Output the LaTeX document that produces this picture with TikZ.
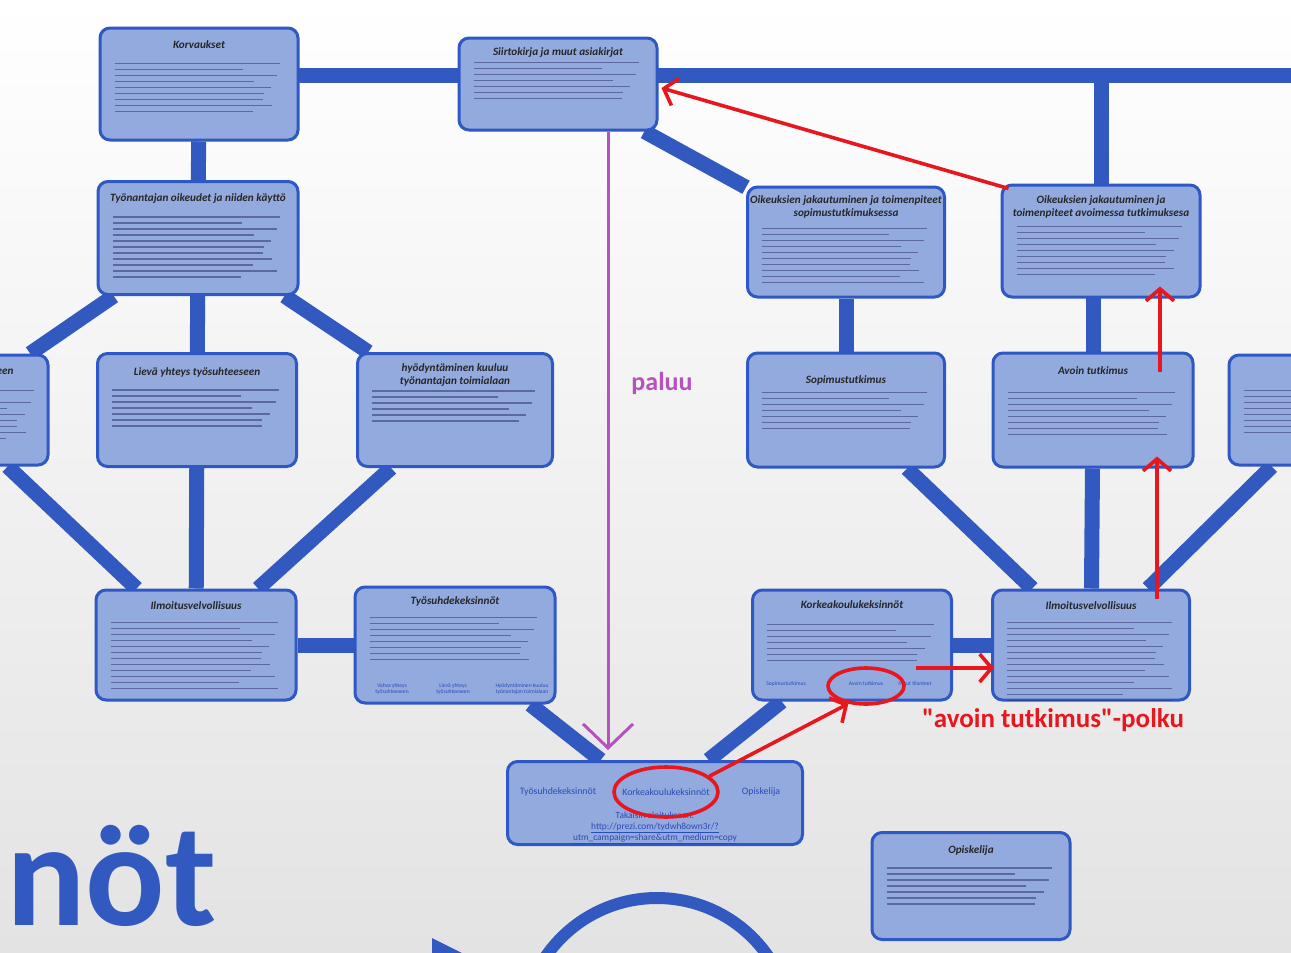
\documentclass[tikz,border=0pt]{standalone}
\usepackage{fontspec}
\setmainfont{Carlito}
\usetikzlibrary{positioning,arrows.meta,calc,shapes.geometric}
\pgfdeclarelayer{bg}
\pgfdeclarelayer{links}
\pgfsetlayers{bg,links,main}
\definecolor{boxfill}{RGB}{146,170,222}
\definecolor{boxline}{RGB}{47,88,196}
\definecolor{barblue}{RGB}{49,89,192}
\definecolor{navblue}{RGB}{45,75,180}
\definecolor{markred}{RGB}{232,22,30}
\definecolor{paluucol}{RGB}{182,82,192}

% unreadable body text of a box, as grey lines
\newcommand{\txtlines}[4]{%
  \foreach \i in {1,...,#3}{
    \pgfmathsetmacro{\len}{#4*(0.70+0.30*abs(sin(\i*97)))}
    \draw[txtline] ([shift={(16,#2+\i*6)}]#1.north west) -- ++(\len,0);
  }}

\begin{document}
\begin{tikzpicture}[
  x=1pt, y=-1pt,
  infobox/.style={draw=boxline, line width=3pt, fill=boxfill, rounded corners=10pt, inner sep=0pt},
  boxtitle/.style={font={\fontsize{11.2}{12.5}\selectfont\bfseries\itshape}, text=black!85, align=center},
  txtline/.style={line width=1.2pt, draw=black!70!blue!80, opacity=0.55},
  joinbar/.style={draw=barblue, line width=15pt},
  navlink/.style={font={\fontsize{9.8}{11}\selectfont}, text=navblue, align=center},
  boxlink/.style={font={\fontsize{5.6}{6.6}\selectfont}, text=navblue, align=center},
  markarrow/.style={draw=markred, line width=3.6pt, -{Straight Barb[length=12pt,width=28pt,line width=3.6pt]}},
  markring/.style={ellipse, draw=markred, line width=3.6pt, inner sep=0pt},
  returnarrow/.style={draw=paluucol, line width=3pt, -{Straight Barb[length=24pt,width=50pt,line width=3pt]}}
]
\path[use as bounding box] (0,0) rectangle (1291,953);
\clip (0,0) rectangle (1291,953);

\begin{pgfonlayer}{bg}
\fill[top color=white, bottom color=gray!22] (0,0) rectangle (1291,953);
\end{pgfonlayer}

% left column
\node[infobox, minimum width=198pt, minimum height=112pt] (korv) at (199,84) {};
\node[boxtitle] (korvt) at (199,45) {Korvaukset};
\txtlines{korv}{31}{9}{166}

\node[infobox, minimum width=200pt, minimum height=113pt] (tyon) at (198,238) {};
\node[boxtitle] (tyont) at (198,199) {Työnantajan oikeudet ja niiden käyttö};
\txtlines{tyon}{31}{11}{168}

\node[infobox, minimum width=200pt, minimum height=110pt] (vahva) at (-52,410) {};
\node[boxtitle] (vahvat) at (-52,371) {Vahva yhteys työsuhteeseen};
\txtlines{vahva}{31}{9}{172}

\node[infobox, minimum width=199pt, minimum height=113pt] (liev) at (197,410) {};
\node[boxtitle] (lievt) at (197,372) {Lievä yhteys työsuhteeseen};
\txtlines{liev}{32}{7}{167}

\node[infobox, minimum width=195pt, minimum height=113pt] (hyod) at (455,410) {};
\node[boxtitle] (hyodt) at (455,375) {hyödyntäminen kuuluu\\työnantajan toimialaan};
\txtlines{hyod}{33}{6}{163}

\node[infobox, minimum width=200pt, minimum height=110pt] (ilmL) at (196,645) {};
\node[boxtitle] (ilmLt) at (196,606) {Ilmoitusvelvollisuus};
\txtlines{ilmL}{28}{12}{168}

\node[infobox, minimum width=200pt, minimum height=116pt] (tsk) at (455,645) {};
\node[boxtitle] (tskt) at (455,601) {Työsuhdekeksinnöt};
\txtlines{tsk}{26}{8}{168}
\node[boxlink] (tska) at (392,689) {Vahva yhteys\\työsuhteeseen};
\node[boxlink] (tskb) at (453,689) {Lievä yhteys\\työsuhteeseen};
\node[boxlink] (tskc) at (522,689) {Hyödyntäminen kuuluu\\työnantajan toimialaan};

% middle
\node[infobox, minimum width=198pt, minimum height=92pt] (siir) at (558,84) {};
\node[boxtitle] (siirt) at (558,53) {Siirtokirja ja muut asiakirjat};
\txtlines{siir}{20}{7}{166}

\node[infobox, minimum width=295pt, minimum height=83pt] (nav) at (655,803) {};
\node[navlink] (nava) at (558,792) {Työsuhdekeksinnöt};
\node[navlink] (navb) at (666,792) {Korkeakoulukeksinnöt};
\node[navlink] (navc) at (761,792) {Opiskelija};
\node[navlink, font={\fontsize{9.4}{10.6}\selectfont}] (navd) at (655,828) {Takaisin aloitukseen:\\\underline{http://prezi.com/tydwh8own3r/?}\\\underline{utm\_campaign=share\&utm\_medium=copy}};

\node[infobox, minimum width=198pt, minimum height=107pt] (opis) at (971,886) {};
\node[boxtitle] (opist) at (971,851) {Opiskelija};
\txtlines{opis}{31}{7}{166}

% right column
\node[infobox, minimum width=197pt, minimum height=110pt] (oiks) at (846,242) {};
\node[boxtitle] (oikst) at (846,207) {Oikeuksien jakautuminen ja toimenpiteet\\sopimustutkimuksessa};
\txtlines{oiks}{37}{10}{165}

\node[infobox, minimum width=198pt, minimum height=112pt] (oika) at (1101,241) {};
\node[boxtitle] (oikat) at (1101,207) {Oikeuksien jakautuminen ja\\toimenpiteet avoimessa tutkimuksesa};
\txtlines{oika}{37}{9}{166}

\node[infobox, minimum width=197pt, minimum height=114pt] (sopi) at (846,410) {};
\node[boxtitle] (sopit) at (846,380) {Sopimustutkimus};
\txtlines{sopi}{35}{7}{165}

\node[infobox, minimum width=200pt, minimum height=114pt] (avoin) at (1093,410) {};
\node[boxtitle] (avoint) at (1093,371) {Avoin tutkimus};
\txtlines{avoin}{35}{8}{168}

\node[infobox, minimum width=200pt, minimum height=110pt] (muut) at (1329,410) {};
\txtlines{muut}{31}{8}{168}

\node[infobox, minimum width=199pt, minimum height=110pt] (kork) at (852,645) {};
\node[boxtitle] (korkt) at (852,605) {Korkeakoulukeksinnöt};
\txtlines{kork}{30}{7}{167}
\node[boxlink] (korka) at (786,684) {Sopimustutkimus};
\node[boxlink] (korkb) at (866,684) {Avoin tutkimus};
\node[boxlink] (korkc) at (915,684) {Muut tilanteet};

\node[infobox, minimum width=197pt, minimum height=110pt] (ilmR) at (1091,645) {};
\node[boxtitle] (ilmRt) at (1091,606) {Ilmoitusvelvollisuus};
\txtlines{ilmR}{28}{14}{165}

% connecting bars
\coordinate (barend) at (1300,75);
\begin{pgfonlayer}{links}
\draw[joinbar] (korv.center |- barend) -- (barend);
\draw[joinbar] (korv) -- (tyon);
\draw[joinbar] (tyon) -- (vahva);
\draw[joinbar] (tyon) -- (liev);
\draw[joinbar] (tyon) -- (hyod);
\draw[joinbar] (vahva) -- (ilmL);
\draw[joinbar] (liev) -- (ilmL);
\draw[joinbar] (hyod) -- (ilmL);
\draw[joinbar] (ilmL) -- (tsk);
\draw[joinbar] (tsk) -- (nav);
\draw[joinbar] (nav) -- (kork);
\draw[joinbar] (kork) -- (ilmR);
\draw[joinbar] (siir) -- (oiks);
\draw[joinbar] (oika) -- (oika |- barend);
\draw[joinbar] (oiks) -- (sopi);
\draw[joinbar] (avoin.center) -- (avoin |- oika.center);
\draw[joinbar] (sopi) -- (ilmR);
\draw[joinbar] (avoin) -- (ilmR);
\draw[joinbar] (muut) -- (ilmR);
\end{pgfonlayer}

% bottom decorations
\node[anchor=base west, font={\fontsize{148}{148}\selectfont\bfseries}, text=barblue, inner sep=0pt] (bigword) at (6,925) {nöt};
\node[circle, draw=barblue, line width=12pt, minimum size=270pt] (ring) at (657,1033) {};
\fill[barblue] (432,938) -- (462,953) -- (432,953) -- cycle;

% annotations
\draw[returnarrow] ([xshift=50]siir.south) -- ([shift={(-47,-10)}]nav.north);
\node[font={\fontsize{26}{30}\selectfont\bfseries}, text=paluucol] (paluut) at (662,383) {paluu};

\draw[markarrow] ([shift={(8,5)}]oika.north west) -- ([shift={(3,4)}]siir.east);
\draw[markarrow] ([shift={(66,10)}]ilmR.north) -- ([shift={(64,-12)}]avoin.south);
\draw[markarrow] ([shift={(67,20)}]avoin.north) -- ([shift={(59,-12)}]oika.south);
\node[markring, minimum width=104pt, minimum height=50pt] (ringk) at (666,792) {};
\node[markring, minimum width=76pt, minimum height=36pt] (ringa) at (866,686) {};
\draw[markarrow] (ringk.20) -- (ringa.225);
\draw[markarrow] ([shift={(-37,23)}]kork.east) -- ([shift={(3,23)}]ilmR.west);
\node[font={\fontsize{27}{30}\selectfont\bfseries}, text=markred] (polkut) at (1053,720) {\textquotedbl avoin tutkimus\textquotedbl -polku};
\end{tikzpicture}
\end{document}
